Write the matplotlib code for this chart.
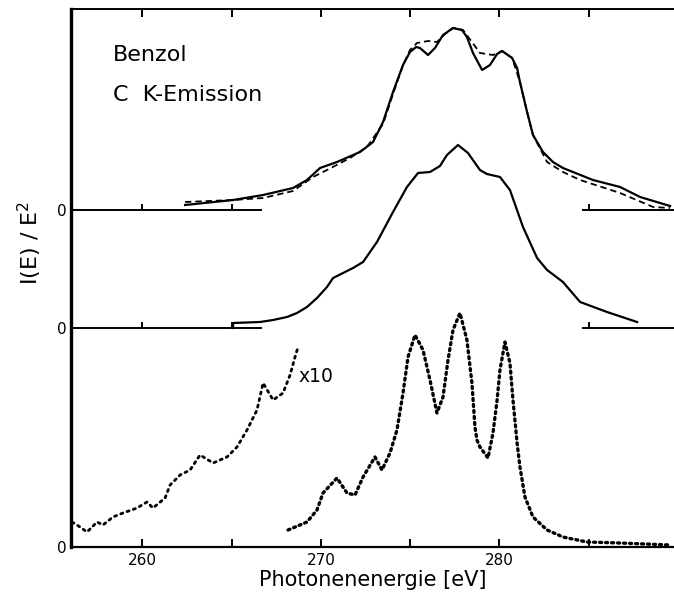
import matplotlib
matplotlib.use("Agg")
import matplotlib.pyplot as plt

# ---------------- data (photon energy in eV, intensity in arbitrary units) -------------
top_solid_x = [262.39, 265.08, 266.76, 268.44, 269.22, 269.95, 270.90, 272.19, 272.92, 273.48,
               274.04, 274.60, 274.99, 275.33, 275.55, 276.00, 276.39, 276.84, 277.40, 277.90,
               278.18, 278.52, 279.03, 279.47, 279.87, 280.15, 280.71, 280.99, 281.15, 281.55,
               281.88, 282.44, 283.00, 283.56, 285.24, 286.76, 287.88, 289.56]
top_solid_y = [5, 10, 15, 22, 30, 42, 48, 58, 68, 88,
               118, 145, 158, 163, 162, 155, 162, 175, 182, 180,
               173, 157, 140, 145, 156, 159, 152, 142, 128, 98,
               75, 58, 48, 42, 30, 23, 13, 4]

top_dashed_x = [262.39, 265.08, 266.76, 268.44, 269.56, 270.34, 271.63, 272.58, 273.48, 274.04,
                274.60, 274.99, 275.38, 276.00, 276.50, 276.95, 277.40, 277.96, 278.46, 278.91,
                279.64, 280.15, 280.71, 281.15, 281.55, 281.88, 282.67, 283.56, 284.52, 286.76,
                288.61, 289.56]
top_dashed_y = [8, 10, 12, 19, 33, 40, 52, 63, 86, 116,
                145, 160, 167, 169, 168, 176, 182, 180, 168, 157,
                155, 159, 152, 128, 98, 75, 48, 38, 30, 17,
                3, 2]

mid_x = [265.08, 265.08, 266.59, 267.32, 268.10, 268.66, 269.22, 269.78, 270.34, 270.68,
         271.24, 271.80, 272.36, 273.14, 274.04, 274.82, 275.44, 276.11, 276.67, 277.06,
         277.68, 278.24, 278.91, 279.30, 280.03, 280.59, 281.32, 282.11, 282.67, 283.56,
         284.52, 286.03, 287.71]
mid_y = [0, 5, 6, 8, 11, 15, 21, 30, 41, 50,
         55, 60, 66, 86, 116, 141, 155, 156, 162, 173,
         183, 175, 158, 154, 151, 138, 101, 70, 58, 46,
         26, 16, 6]

bot_x = [268.16, 269.22, 269.78, 270.12, 270.90, 271.46, 271.91, 272.36, 273.03, 273.42,
         273.87, 274.26, 274.60, 274.88, 275.27, 275.72, 276.11, 276.50, 276.84, 277.12,
         277.40, 277.79, 278.18, 278.46, 278.63, 278.74, 278.91, 279.36, 279.64, 279.87,
         280.03, 280.31, 280.59, 280.76, 280.99, 281.15, 281.43, 281.88, 282.67, 283.56,
         284.91, 286.76, 289.56]
bot_y = [17, 25, 37, 54, 69, 54, 52, 70, 90, 77,
         94, 117, 154, 190, 212, 197, 167, 134, 150, 187,
         217, 234, 207, 164, 120, 107, 100, 89, 114, 147,
         177, 205, 184, 147, 104, 80, 50, 30, 17, 10,
         5, 4, 2]

x10_x = [256.06, 256.34, 256.90, 257.46, 257.79, 258.35, 258.91, 259.70, 260.26, 260.59,
         261.27, 261.55, 262.11, 262.67, 263.23, 263.96, 264.74, 265.30, 265.86, 266.42,
         266.76, 267.32, 267.88, 268.27, 268.55, 268.72]
x10_y = [25, 22, 15, 25, 22, 30, 34, 39, 45, 39,
         49, 62, 72, 77, 92, 84, 90, 100, 117, 137,
         164, 147, 154, 172, 190, 200]

xticks = [260, 265, 270, 275, 280, 285]
xtick_labels = ["260", "", "270", "", "280", ""]
offset_top = 337
offset_mid = 219

# ---------------- figure --------------------------------------------------------------
W, H = 674, 596
fig = plt.figure(figsize=(W / 100, H / 100), dpi=100)
ax = fig.add_axes([71 / W, (H - 547) / H, 1 - 71 / W, (547 - 9) / H])
XMIN, XMAX = 256.0, 289.78
ax.set_xlim(XMIN, XMAX)
ax.set_ylim(0, 538)

lw = 1.6
ax.plot(top_solid_x, [v + offset_top for v in top_solid_y], color="black", lw=lw,
        solid_joinstyle="round", zorder=3)
ax.plot(top_dashed_x, [v + offset_top for v in top_dashed_y], color="black", lw=1.3,
        linestyle=(0, (3.5, 2.2)), zorder=3)
ax.plot(mid_x, [v + offset_mid for v in mid_y], color="black", lw=lw,
        solid_joinstyle="round", zorder=3)
ax.plot(bot_x, bot_y, color="black", lw=2.4, linestyle=(0, (0.6, 1.2)),
        dash_capstyle="round", zorder=3)
ax.plot(x10_x, x10_y, color="black", lw=2.0, linestyle=(0, (0.8, 1.6)),
        dash_capstyle="round", zorder=3)

# partial baselines for the upper panels
seg_left = (XMIN, 266.7)
seg_right = (284.63, XMAX)
for off in (offset_top, offset_mid):
    ax.hlines(off, *seg_left, color="black", lw=1.4, zorder=2)
    ax.hlines(off, *seg_right, color="black", lw=1.4, zorder=2)
    ax.vlines([260, 265, 285], off, off + 6, color="black", lw=1.4, zorder=2)

# axes styling
ax.spines["right"].set_visible(False)
ax.spines["left"].set_linewidth(2.4)
ax.spines["bottom"].set_linewidth(1.6)
ax.spines["top"].set_linewidth(1.4)
ax.set_xticks(xticks)
ax.set_xticklabels(xtick_labels, fontsize=11)
ax.tick_params(axis="x", direction="in", top=True, length=6, width=1.4, pad=4)
ax.set_yticks([0, offset_mid, offset_top])
ax.set_yticklabels(["0", "0", "0"], fontsize=11)
ax.tick_params(axis="y", length=0, pad=3)

ax.set_xlabel("Photonenenergie [eV]", fontsize=15, labelpad=2)
fig.text(30 / W, 1 - 243 / H, "I(E) / E$^2$", rotation=90, fontsize=16,
         ha="center", va="center")

fig.text(113 / W, 1 - 55 / H, "Benzol", fontsize=16, ha="left", va="center")
fig.text(113 / W, 1 - 95 / H, "C  K-Emission", fontsize=16, ha="left", va="center")
fig.text(298 / W, 1 - 377 / H, "x10", fontsize=13.5, ha="left", va="center")

fig.savefig("out.png", dpi=100)
